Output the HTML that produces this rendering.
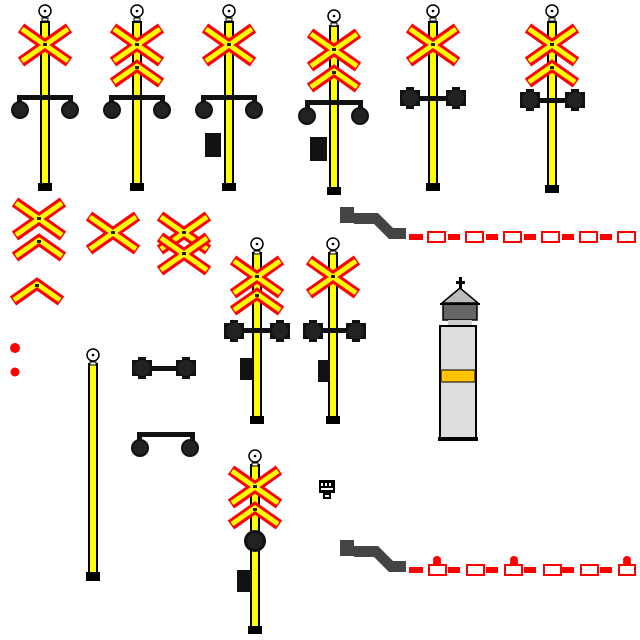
<!DOCTYPE html>
<html><head><style>html,body{margin:0;padding:0;background:#fff}svg{display:block}</style></head>
<body>
<svg width="640" height="640" viewBox="0 0 640 640" xmlns="http://www.w3.org/2000/svg" xmlns:xlink="http://www.w3.org/1999/xlink">
<defs>
<g id="x">
<path d="M-24,-17 L24,17 M-24,17 L24,-17" stroke="#f00" stroke-width="11" fill="none"/>
<path d="M-23,-16 L23,16 M-23,16 L23,-16" stroke="#ff0" stroke-width="5" fill="none"/>
<rect x="-2" y="-2" width="4" height="3" fill="#222"/>
</g>
<g id="ch">
<path d="M-24,17 L0,0 L24,17" stroke="#f00" stroke-width="11" fill="none"/>
<path d="M-23,16 L0,0 L23,16" stroke="#ff0" stroke-width="5" fill="none"/>
<rect x="-2" y="0" width="4" height="3" fill="#222"/>
</g>
<g id="top">
<circle cx="0" cy="0" r="6" fill="#fff" stroke="#000" stroke-width="1.5"/>
<circle cx="0" cy="0" r="1.3" fill="#000"/>
<rect x="-3" y="7" width="6" height="3" fill="#fff" stroke="#000" stroke-width="1"/>
</g>
<g id="oct"><polygon points="-4,-11 4,-11 4,-8 10,-8 10,8 4,8 4,11 -4,11 -4,8 -10,8 -10,-8 -4,-8" fill="#111"/><circle r="8" fill="#222"/></g>
<g id="lampc"><circle r="9" fill="#111"/><circle r="7" fill="#222"/></g>
</defs>

<g stroke="#000" stroke-width="2" fill="#ff0">
<rect x="41" y="22" width="8" height="162"/>
<rect x="133" y="22" width="8" height="162"/>
<rect x="225" y="22" width="8" height="162"/>
<rect x="330" y="26" width="8" height="162"/>
<rect x="429" y="22" width="8" height="162"/>
<rect x="548" y="22" width="8" height="164"/>
<rect x="253" y="253" width="8" height="164"/>
<rect x="329" y="253" width="8" height="164"/>
<rect x="89" y="364" width="8" height="210"/>
<rect x="251" y="465" width="8" height="162"/>
</g>
<g fill="#000">
<rect x="38" y="183" width="14" height="8"/>
<rect x="130" y="183" width="14" height="8"/>
<rect x="222" y="183" width="14" height="8"/>
<rect x="327" y="187" width="14" height="8"/>
<rect x="426" y="183" width="14" height="8"/>
<rect x="545" y="185" width="14" height="8"/>
<rect x="250" y="416" width="14" height="8"/>
<rect x="326" y="416" width="14" height="8"/>
<rect x="86" y="572" width="14" height="9"/>
<rect x="248" y="626" width="14" height="8"/>
</g>
<use xlink:href="#top" x="45" y="11"/>
<use xlink:href="#top" x="137" y="11"/>
<use xlink:href="#top" x="229" y="11"/>
<use xlink:href="#top" x="334" y="16"/>
<use xlink:href="#top" x="433" y="11"/>
<use xlink:href="#top" x="552" y="11"/>
<use xlink:href="#top" x="257" y="244"/>
<use xlink:href="#top" x="333" y="244"/>
<use xlink:href="#top" x="93" y="355"/>
<use xlink:href="#top" x="255" y="456"/>

<use xlink:href="#x" x="45" y="45"/>
<use xlink:href="#x" x="137" y="45"/><use xlink:href="#ch" x="137" y="66"/>
<use xlink:href="#x" x="229" y="45"/>
<use xlink:href="#x" x="334" y="50"/><use xlink:href="#ch" x="334" y="71"/>
<use xlink:href="#x" x="433" y="45"/>
<use xlink:href="#x" x="552" y="45"/><use xlink:href="#ch" x="552" y="66"/>
<use xlink:href="#x" x="39" y="219"/><use xlink:href="#ch" x="39" y="240"/>
<use xlink:href="#ch" x="37" y="284"/>
<use xlink:href="#x" x="113" y="233"/>
<use xlink:href="#x" x="184" y="233"/><use xlink:href="#x" x="184" y="254"/>
<use xlink:href="#x" x="257" y="277"/><use xlink:href="#ch" x="257" y="294"/>
<use xlink:href="#x" x="333" y="277"/>
<use xlink:href="#x" x="255" y="487"/><use xlink:href="#ch" x="255" y="508"/>

<g fill="#111">
<rect x="17" y="95" width="56" height="5"/><rect x="17" y="95" width="5" height="10"/><rect x="68" y="95" width="5" height="10"/>
<rect x="109" y="95" width="56" height="5"/><rect x="109" y="95" width="5" height="10"/><rect x="160" y="95" width="5" height="10"/>
<rect x="201" y="95" width="56" height="5"/><rect x="201" y="95" width="5" height="10"/><rect x="252" y="95" width="5" height="10"/>
<rect x="305" y="100" width="58" height="5"/><rect x="305" y="100" width="5" height="10"/><rect x="358" y="100" width="5" height="10"/>
<rect x="408" y="96" width="50" height="5"/>
<rect x="528" y="98" width="48" height="5"/>
<rect x="234" y="328" width="46" height="5"/>
<rect x="313" y="328" width="43" height="5"/>
<rect x="142" y="366" width="44" height="5"/>
<rect x="137" y="432" width="58" height="5"/><rect x="137" y="432" width="5" height="12"/><rect x="190" y="432" width="5" height="12"/>
<rect x="205" y="133" width="16" height="24"/>
<rect x="310" y="137" width="17" height="24"/>
<rect x="240" y="358" width="13" height="22"/>
<rect x="318" y="360" width="12" height="22"/>
<rect x="237" y="570" width="14" height="22"/>
</g>
<use xlink:href="#lampc" x="20" y="110"/><use xlink:href="#lampc" x="70" y="110"/>
<use xlink:href="#lampc" x="112" y="110"/><use xlink:href="#lampc" x="162" y="110"/>
<use xlink:href="#lampc" x="204" y="110"/><use xlink:href="#lampc" x="254" y="110"/>
<use xlink:href="#lampc" x="307" y="116"/><use xlink:href="#lampc" x="360" y="116"/>
<use xlink:href="#oct" x="410" y="98"/><use xlink:href="#oct" x="456" y="98"/>
<use xlink:href="#oct" x="530" y="100"/><use xlink:href="#oct" x="575" y="100"/>
<use xlink:href="#oct" x="234" y="331"/><use xlink:href="#oct" x="280" y="331"/>
<use xlink:href="#oct" x="313" y="331"/><use xlink:href="#oct" x="356" y="331"/>
<use xlink:href="#oct" x="142" y="368"/><use xlink:href="#oct" x="186" y="368"/>
<use xlink:href="#lampc" x="140" y="448"/><use xlink:href="#lampc" x="190" y="448"/>
<circle cx="255" cy="541" r="11" fill="#111"/><circle cx="255" cy="541" r="8" fill="#222"/>

<circle cx="15" cy="348" r="5" fill="#f00"/>
<circle cx="15" cy="372" r="4.5" fill="#f00"/>

<g fill="#444">
<rect x="340" y="207" width="14" height="16"/>
<polygon points="354,213 378,213 393,228 406,228 406,239 389,239 374,224 354,224"/>
<rect x="340" y="540" width="14" height="16"/>
<polygon points="354,546 378,546 393,561 406,561 406,572 389,572 374,557 354,557"/>
</g>
<g fill="#f00">
<rect x="409" y="234" width="14" height="6"/><rect x="448" y="234" width="12" height="6"/><rect x="486" y="234" width="12" height="6"/><rect x="524" y="234" width="12" height="6"/><rect x="562" y="234" width="12" height="6"/><rect x="600" y="234" width="12" height="6"/>
<rect x="409" y="567" width="14" height="6"/><rect x="448" y="567" width="12" height="6"/><rect x="486" y="567" width="12" height="6"/><rect x="524" y="567" width="12" height="6"/><rect x="562" y="567" width="12" height="6"/><rect x="600" y="567" width="12" height="6"/>
<circle cx="437" cy="560" r="4"/><rect x="433" y="562" width="8" height="3"/>
<circle cx="514" cy="560" r="4"/><rect x="510" y="562" width="8" height="3"/>
<circle cx="627" cy="560" r="4"/><rect x="623" y="562" width="8" height="3"/>
</g>
<g fill="#fff" stroke="#f00" stroke-width="2">
<rect x="428" y="232" width="17" height="10"/><rect x="466" y="232" width="17" height="10"/><rect x="504" y="232" width="17" height="10"/><rect x="542" y="232" width="17" height="10"/><rect x="580" y="232" width="17" height="10"/><rect x="618" y="232" width="17" height="10"/>
<rect x="429" y="565" width="17" height="10"/><rect x="467" y="565" width="17" height="10"/><rect x="505" y="565" width="17" height="10"/><rect x="544" y="565" width="17" height="10"/><rect x="581" y="565" width="17" height="10"/><rect x="619" y="565" width="16" height="10"/>
</g>

<rect x="459" y="277" width="3" height="12" fill="#000"/><rect x="456" y="281" width="9" height="3" fill="#000"/>
<polygon points="460,288 442,303 478,303" fill="#bbb" stroke="#000" stroke-width="1.5"/>
<rect x="440" y="303" width="40" height="2" fill="#000"/>
<path d="M443,305 L443,320 L477,320 L477,305" fill="#666" stroke="#000" stroke-width="1.5"/>
<rect x="448" y="320" width="24" height="6" fill="#ccc"/>
<rect x="440" y="326" width="36" height="112" fill="#ddd" stroke="#000" stroke-width="2"/>
<rect x="441" y="370" width="34" height="12" fill="#ffc400" stroke="#000" stroke-width="1"/>
<rect x="438" y="437" width="40" height="4" fill="#000"/>

<rect x="319" y="480" width="16" height="13" fill="#000"/>
<rect x="323" y="493" width="8" height="6" fill="#000"/>
<g fill="#fff"><rect x="321" y="483" width="2" height="3"/><rect x="325" y="483" width="2" height="3"/><rect x="329" y="483" width="2" height="3"/><rect x="321" y="488" width="12" height="2"/><rect x="325" y="495" width="4" height="2"/></g>
</svg>
</body></html>
